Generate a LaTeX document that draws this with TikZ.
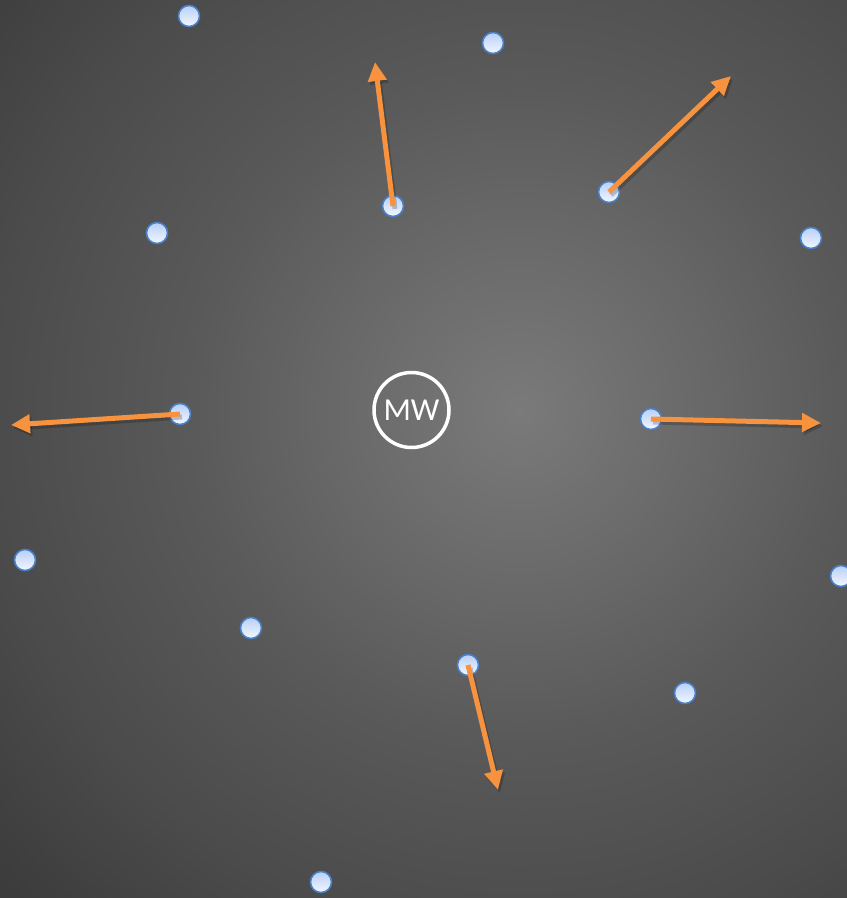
\documentclass[tikz,border=0pt]{standalone}
\usepackage{fontspec}
\setmainfont{Carlito}
\usetikzlibrary{arrows.meta}
\definecolor{arroworange}{HTML}{F7923E}
\definecolor{dotedge}{HTML}{4A80C8}
\definecolor{dottop}{HTML}{B8CFF8}
\definecolor{dotbottom}{HTML}{F4F8FF}
\definecolor{bgin}{HTML}{7A7A7A}
\definecolor{bgA}{HTML}{6A6A6A}
\definecolor{bgB}{HTML}{595959}
\definecolor{bgC}{HTML}{4B4B4B}
\definecolor{bgout}{HTML}{3C3C3C}
\pgfdeclareradialshading{bgshade}{\pgfpoint{0bp}{0bp}}{color(0bp)=(bgin); color(6bp)=(bgA); color(12bp)=(bgB); color(19bp)=(bgC); color(25bp)=(bgout); color(50bp)=(bgout)}
\tikzset{
  dot/.style={circle, minimum size=21pt, inner sep=0pt, draw=dotedge, line width=1.6pt,
    top color=dottop, bottom color=dotbottom},
  vec/.style={draw=arroworange, line width=5pt, -{Triangle[length=19pt,width=18pt]}},
  vecshadow/.style={draw=black, opacity=0.2, line width=5pt, -{Triangle[length=19pt,width=18pt]}},
  mw/.style={circle, draw=white, line width=3.5pt, minimum size=75pt, inner sep=0pt,
    text=white, font=\fontsize{32pt}{32pt}\selectfont}
}
\begin{document}
\begin{tikzpicture}[x=1pt,y=-1pt]
\useasboundingbox (0,0) rectangle (847,898);
\begin{scope}
\clip (0,0) rectangle (847,898);
\shade[shading=bgshade] (520-700,410-700) rectangle (520+700,410+700);
\end{scope}
% dots
\node[dot] (d1) at (189,16) {};
\node[dot] (d2) at (493,43) {};
\node[dot] (d3) at (393,206) {};
\node[dot] (d4) at (609,192) {};
\node[dot] (d5) at (157,233) {};
\node[dot] (d6) at (811,238) {};
\node[dot] (d7) at (180,414) {};
\node[dot] (d8) at (651,419) {};
\node[dot] (d9) at (25,560) {};
\node[dot] (d10) at (841,576) {};
\node[dot] (d11) at (251,628) {};
\node[dot] (d12) at (468,665) {};
\node[dot] (d13) at (685,693) {};
\node[dot] (d14) at (321,882) {};
% arrow targets
\coordinate (t3) at (375,62);
\coordinate (t4) at (731,76);
\coordinate (t7) at (11,425);
\coordinate (t8) at (821,423);
\coordinate (t12) at (498,790);
% shadows
\foreach \a/\b in {d3/t3,d4/t4,d7/t7,d8/t8,d12/t12}{
  \draw[vecshadow, transform canvas={xshift=2pt,yshift=-3pt}] (\a.center) -- (\b);
}
% arrows
\draw[vec] (d3.center) -- (t3);
\draw[vec] (d4.center) -- (t4);
\draw[vec] (d7.center) -- (t7);
\draw[vec] (d8.center) -- (t8);
\draw[vec] (d12.center) -- (t12);
% MW
\node[mw] (mw) at (411.5,410) {MW};
\end{tikzpicture}
\end{document}
